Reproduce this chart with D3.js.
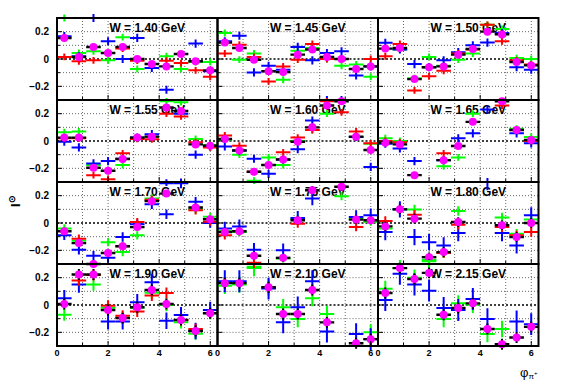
<!DOCTYPE html>
<html>
<head>
<meta charset="utf-8">
<script src="https://cdn.jsdelivr.net/npm/d3@7"></script>
<style>
  body { margin: 0; background: #fff; }
  svg text { font-family: "Liberation Sans", Arial, sans-serif; font-weight: bold; }
</style>
</head>
<body>
<div id="chart"></div>
<script>
// W values, one per panel (3 columns x 4 rows)
var wLabels = ["1.40", "1.45", "1.50", "1.55", "1.60", "1.65", "1.70", "1.75", "1.80", "1.90", "2.10", "2.15"];
var nBins = 11;
var xTicks = [0, 2, 4, 6];
var yTicks = [-0.2, 0, 0.2];

// series values per panel, 11 phi bins each (null = not shown)
var green = [
  [0.30, 0.044, 0.056, -0.01, 0.16, -0.073, null, 0.02, -0.073, -0.022, -0.022],
  [0.19, -0.005, 0.04, null, -0.152, 0.06, 0.08, 0.0, -0.05, -0.04, -0.13],
  [null, 0.07, -0.14, 0.015, -0.05, -0.005, 0.04, 0.25, 0.22, 0.007, 0.0],
  [0.064, 0.07, -0.176, -0.22, -0.176, 0.02, 0.03, 0.29, 0.284, 0.015, -0.03],
  [0.01, -0.1, -0.29, -0.12, -0.176, 0.0, 0.08, 0.2, null, 0.03, -0.02],
  [0.02, 0.0, null, null, -0.184, -0.12, 0.2, null, null, 0.09, 0.03],
  [-0.04, -0.13, null, -0.14, -0.213, -0.09, 0.18, null, null, 0.1, 0.045],
  [-0.06, -0.065, -0.32, null, -0.26, 0.03, null, null, 0.196, 0.03, 0.01],
  [-0.04, 0.1, 0.098, -0.27, -0.22, 0.088, null, null, 0.04, -0.078, 0.025],
  [-0.071, null, 0.15, -0.02, -0.09, -0.02, 0.09, 0.0, -0.127, -0.21, -0.06],
  [0.14, 0.15, 0.27, 0.13, -0.017, -0.103, 0.05, -0.066, null, null, -0.2],
  [0.118, 0.27, 0.2, 0.32, -0.103, 0.012, 0.002, -0.213, -0.176, null, null]
];
var blue = [
  [0.167, 0.02, 0.30, 0.13, 0.0, 0.154, -0.066, -0.225, null, 0.113, -0.09],
  [0.13, 0.17, -0.098, -0.05, -0.078, 0.088, -0.01, 0.044, 0.056, -0.12, -0.054],
  [0.118, 0.07, -0.037, -0.06, -0.01, 0.05, 0.1, 0.12, 0.19, -0.06, -0.078],
  [-0.005, -0.047, -0.164, -0.147, -0.13, 0.025, 0.05, -0.31, 0.2, -0.1, -0.04],
  [-0.04, -0.07, -0.13, -0.24, -0.135, -0.06, 0.15, 0.3, 0.3, 0.03, -0.19],
  [-0.02, -0.054, -0.147, null, -0.14, 0.02, 0.056, 0.23, null, 0.056, -0.017],
  [-0.09, -0.196, -0.24, -0.255, -0.103, -0.01, 0.137, 0.064, 0.29, 0.155, 0.0],
  [-0.04, -0.025, -0.196, null, -0.2, 0.037, 0.18, null, null, 0.044, 0.056],
  [-0.066, 0.1, -0.103, -0.14, -0.164, -0.074, null, 0.3, -0.074, -0.164, 0.056],
  [0.05, 0.15, null, -0.12, -0.12, 0.02, 0.167, -0.115, -0.074, -0.19, -0.037],
  [0.174, 0.174, null, 0.12, -0.127, -0.017, 0.174, -0.194, null, -0.213, -0.25],
  [0.037, 0.228, 0.15, 0.105, -0.022, -0.037, 0.044, -0.103, null, -0.12, -0.14]
];
var red = [
  [0.015, -0.017, -0.01, null, 0.076, -0.012, null, -0.012, -0.03, -0.083, -0.13],
  [0.04, 0.105, 0.015, -0.164, -0.054, -0.005, 0.11, 0.0, 0.0, -0.073, 0.0],
  [0.02, 0.11, -0.23, -0.127, -0.086, 0.04, 0.07, 0.25, 0.13, -0.01, -0.04],
  [0.02, 0.02, -0.25, -0.28, -0.09, 0.015, 0.012, 0.2, 0.18, -0.01, -0.047],
  [0.04, -0.034, -0.225, -0.176, -0.083, 0.025, 0.08, 0.29, 0.21, 0.07, -0.017],
  [0.0, -0.01, null, null, -0.09, null, null, null, 0.26, 0.08, 0.0],
  [null, -0.115, null, null, -0.17, 0.007, 0.17, null, null, 0.093, 0.01],
  [-0.09, null, null, null, null, -0.005, null, null, null, -0.03, null],
  [0.015, null, 0.06, null, -0.22, -0.012, null, null, -0.03, -0.09, -0.066],
  [null, 0.18, 0.22, -0.005, -0.078, -0.047, 0.07, 0.088, -0.11, -0.176, null],
  [null, null, 0.31, null, null, null, null, null, null, null, null],
  [null, null, null, null, null, null, null, null, null, null, null]
];
var magenta = [
  [0.154, 0.015, 0.088, 0.044, 0.088, 0.0, -0.037, -0.054, 0.037, -0.017, -0.083],
  [0.12, 0.08, -0.005, -0.09, -0.096, 0.032, 0.069, 0.015, 0.0, -0.073, -0.054],
  [0.076, 0.08, -0.147, -0.06, -0.054, 0.032, 0.073, 0.2, 0.18, -0.022, -0.047],
  [0.025, 0.025, -0.196, -0.218, -0.132, 0.025, 0.032, 0.245, 0.22, -0.025, -0.034],
  [0.015, -0.07, -0.225, -0.176, -0.135, -0.005, 0.1, 0.26, 0.29, 0.032, -0.066],
  [-0.012, -0.025, -0.25, null, -0.14, -0.037, 0.14, null, 0.29, 0.08, 0.007],
  [-0.06, -0.147, -0.3, -0.22, -0.17, -0.03, 0.16, 0.215, null, 0.113, 0.027],
  [-0.066, -0.06, -0.24, null, -0.255, 0.02, 0.24, null, 0.265, 0.025, 0.02],
  [-0.025, 0.1, 0.032, -0.25, -0.213, 0.007, null, null, -0.017, -0.103, 0.0],
  [0.007, 0.223, 0.223, -0.037, -0.096, -0.017, 0.11, 0.007, -0.11, -0.19, -0.06],
  [0.16, 0.16, null, 0.13, -0.066, -0.066, 0.11, -0.127, null, -0.28, -0.25],
  [0.088, 0.27, 0.19, 0.235, -0.071, -0.022, 0.012, -0.176, -0.287, -0.238, -0.16]
];
// vertical error per panel for each series
var errGreen = [0.025, 0.025, 0.025, 0.025, 0.025, 0.025, 0.03, 0.03, 0.035, 0.045, 0.06, 0.06];
var errBlue = [0.03, 0.03, 0.03, 0.03, 0.03, 0.03, 0.035, 0.05, 0.06, 0.06, 0.08, 0.08];
var errRed = [0.025, 0.025, 0.025, 0.025, 0.025, 0.025, 0.03, 0.03, 0.035, 0.04, 0.04, 0.04];
var errMag = [0.02, 0.02, 0.02, 0.02, 0.02, 0.02, 0.025, 0.03, 0.035, 0.04, 0.04, 0.04];

var svg_w = 567, svg_h = 384;
var svg = d3.select("#chart").append("svg")
  .attr("width", svg_w)
  .attr("height", svg_h);

var padL = 57, padT = 18, pw = 160.5, ph = 82;
var binW = 2 * Math.PI / nBins;

var series = [
  {vals: green, err: errGreen, color: "#00ff00"},
  {vals: blue, err: errBlue, color: "#0000ff"},
  {vals: red, err: errRed, color: "#ff0000"}
];

for (var p = 0; p < 12; p++) {
  var col = p % 3, row = Math.floor(p / 3);
  var x0 = padL + col * pw, y0 = padT + row * ph;
  var x = d3.scaleLinear().domain([0, 2 * Math.PI]).range([x0, x0 + pw]);
  var y = d3.scaleLinear().domain([-0.3, 0.3]).range([y0 + ph, y0]);

  var g = svg.append("g");
  g.append("clipPath").attr("id", "clip" + p)
    .append("rect").attr("x", x0).attr("y", y0 - 4).attr("width", pw).attr("height", ph + 8);

  // grid
  g.selectAll("line.gx").data(d3.range(1, 7)).enter().append("line")
    .attr("x1", function(d) { return x(d); }).attr("x2", function(d) { return x(d); })
    .attr("y1", y0).attr("y2", y0 + ph)
    .attr("stroke", "#666").attr("stroke-width", 1).attr("stroke-dasharray", "1,2");
  g.selectAll("line.gy").data([-0.2, -0.1, 0.1, 0.2]).enter().append("line")
    .attr("y1", function(d) { return y(d); }).attr("y2", function(d) { return y(d); })
    .attr("x1", x0).attr("x2", x0 + pw)
    .attr("stroke", "#666").attr("stroke-width", 1).attr("stroke-dasharray", "1,2");
  // zero line
  g.append("line").attr("x1", x0).attr("x2", x0 + pw)
    .attr("y1", y(0)).attr("y2", y(0))
    .attr("stroke", "#000").attr("stroke-width", 1.6).attr("stroke-dasharray", "2,2");

  // title
  g.append("text").attr("x", x0 + pw / 2 + 10).attr("y", y0 + 14)
    .attr("text-anchor", "middle").attr("font-size", "12px")
    .text("W = " + wLabels[p] + " GeV");

  var dg = g.append("g").attr("clip-path", "url(#clip" + p + ")");
  series.forEach(function(s) {
    var pts = [];
    s.vals[p].forEach(function(v, i) { if (v !== null) pts.push({i: i, v: v, e: s.err[p]}); });
    var pg = dg.append("g").attr("stroke", s.color).attr("stroke-width", 2);
    pg.selectAll("line.h").data(pts).enter().append("line")
      .attr("x1", function(d) { return x(d.i * binW); })
      .attr("x2", function(d) { return x((d.i + 1) * binW); })
      .attr("y1", function(d) { return y(d.v); })
      .attr("y2", function(d) { return y(d.v); });
    pg.selectAll("line.v").data(pts).enter().append("line")
      .attr("x1", function(d) { return x((d.i + 0.5) * binW); })
      .attr("x2", function(d) { return x((d.i + 0.5) * binW); })
      .attr("y1", function(d) { return y(d.v - d.e); })
      .attr("y2", function(d) { return y(d.v + d.e); });
  });
  // magenta points with black error bars
  var mp = [];
  magenta[p].forEach(function(v, i) { if (v !== null) mp.push({i: i, v: v, e: errMag[p]}); });
  var mg = dg.append("g");
  mg.selectAll("line.h").data(mp).enter().append("line")
    .attr("x1", function(d) { return x(d.i * binW); })
    .attr("x2", function(d) { return x((d.i + 1) * binW); })
    .attr("y1", function(d) { return y(d.v); })
    .attr("y2", function(d) { return y(d.v); })
    .attr("stroke", "#000").attr("stroke-width", 2.4);
  mg.selectAll("line.v").data(mp).enter().append("line")
    .attr("x1", function(d) { return x((d.i + 0.5) * binW); })
    .attr("x2", function(d) { return x((d.i + 0.5) * binW); })
    .attr("y1", function(d) { return y(d.v - d.e); })
    .attr("y2", function(d) { return y(d.v + d.e); })
    .attr("stroke", "#000").attr("stroke-width", 2);
  mg.selectAll("circle").data(mp).enter().append("circle")
    .attr("cx", function(d) { return x((d.i + 0.5) * binW); })
    .attr("cy", function(d) { return y(d.v); })
    .attr("r", 4).attr("fill", "#ff00ff");

  // ticks (inside frame)
  g.selectAll("line.ty").data(d3.range(-3, 4)).enter().append("line")
    .attr("x1", x0).attr("x2", function(d) { return x0 + (d % 2 === 0 ? 5 : 3); })
    .attr("y1", function(d) { return y(d / 10); }).attr("y2", function(d) { return y(d / 10); })
    .attr("stroke", "#000").attr("stroke-width", 1);
  g.selectAll("line.tx").data(d3.range(0, 7)).enter().append("line")
    .attr("x1", function(d) { return x(d); }).attr("x2", function(d) { return x(d); })
    .attr("y1", y0 + ph).attr("y2", function(d) { return y0 + ph - (d % 2 === 0 ? 5 : 3); })
    .attr("stroke", "#000").attr("stroke-width", 1);

  // frame
  g.append("rect").attr("x", x0).attr("y", y0).attr("width", pw).attr("height", ph)
    .attr("fill", "none").attr("stroke", "#000").attr("stroke-width", 2);

  // axis labels on outer panels
  if (col === 0) {
    g.selectAll("text.yl").data(yTicks).enter().append("text")
      .attr("x", x0 - 8).attr("y", function(d) { return y(d) + 3.5; })
      .attr("text-anchor", "end").attr("font-size", "10px")
      .text(function(d) { return d === 0 ? "0" : d3.format(".1f")(d); });
  }
  if (row === 3) {
    g.selectAll("text.xl").data(xTicks).enter().append("text")
      .attr("x", function(d) { return x(d); }).attr("y", y0 + ph + 10)
      .attr("text-anchor", "middle").attr("font-size", "9px")
      .text(function(d) { return d; });
  }
}

// axis titles
var yt = svg.append("text").attr("transform", "translate(20,207) rotate(-90)")
  .attr("font-size", "13px");
yt.append("tspan").text("I");
yt.append("tspan").attr("dy", -5).attr("font-size", "9px").text("\u2299");

var xt = svg.append("text").attr("x", 520).attr("y", 377).attr("font-size", "13px")
  .attr("font-weight", "normal");
xt.append("tspan").attr("font-weight", "normal").text("\u03c6");
xt.append("tspan").attr("dy", 2).attr("font-size", "8px").attr("font-weight", "normal").text("\u03c0");
xt.append("tspan").attr("dy", -4).attr("font-size", "6px").attr("font-weight", "normal").text("+");
</script>
</body>
</html>
